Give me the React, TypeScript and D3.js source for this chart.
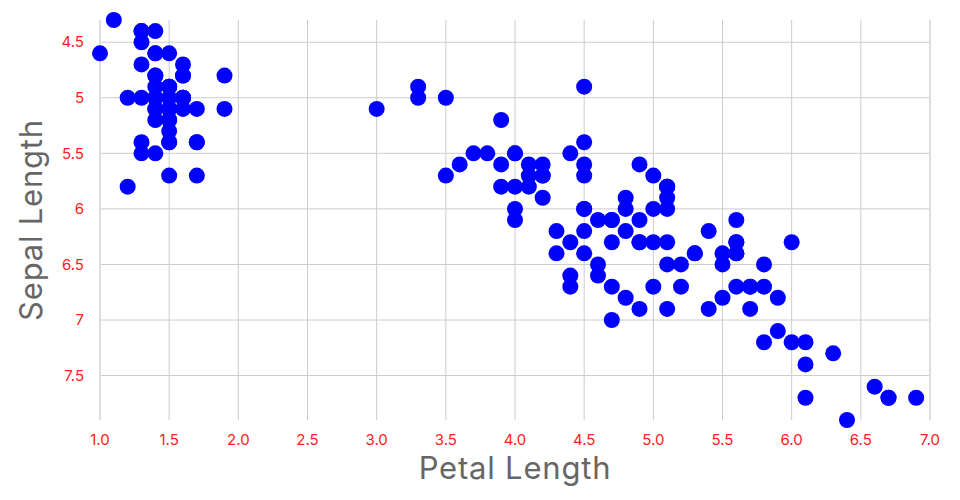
import { useEffect, useRef } from "react";
import * as d3 from "d3";

// iris: petal length (x) vs sepal length (y)
const petalLength = [
  1.4, 1.4, 1.3, 1.5, 1.4, 1.7, 1.4, 1.5, 1.4, 1.5, 1.5, 1.6, 1.4, 1.1, 1.2, 1.5, 1.3, 1.4, 1.7, 1.5,
  1.7, 1.5, 1.0, 1.7, 1.9, 1.6, 1.6, 1.5, 1.4, 1.6, 1.6, 1.5, 1.5, 1.4, 1.5, 1.2, 1.3, 1.5, 1.3, 1.5,
  1.3, 1.3, 1.3, 1.6, 1.9, 1.4, 1.6, 1.4, 1.5, 1.4,
  4.7, 4.5, 4.9, 4.0, 4.6, 4.5, 4.7, 3.3, 4.6, 3.9, 3.5, 4.2, 4.0, 4.7, 3.6, 4.4, 4.5, 4.1, 4.5, 3.9,
  4.8, 4.0, 4.9, 4.7, 4.3, 4.4, 4.8, 5.0, 4.5, 3.5, 3.8, 3.7, 3.9, 5.1, 4.5, 4.5, 4.7, 4.4, 4.1, 4.0,
  4.4, 4.6, 4.0, 3.3, 4.2, 4.2, 4.2, 4.3, 3.0, 4.1,
  6.0, 5.1, 5.9, 5.6, 5.8, 6.6, 4.5, 6.3, 5.8, 6.1, 5.1, 5.3, 5.5, 5.0, 5.1, 5.3, 5.5, 6.7, 6.9, 5.0,
  5.7, 4.9, 6.7, 4.9, 5.7, 6.0, 4.8, 4.9, 5.6, 5.8, 6.1, 6.4, 5.6, 5.1, 5.6, 6.1, 5.6, 5.5, 4.8, 5.4,
  5.6, 5.1, 5.1, 5.9, 5.7, 5.2, 5.0, 5.2, 5.4, 5.1,
];
const sepalLength = [
  5.1, 4.9, 4.7, 4.6, 5.0, 5.4, 4.6, 5.0, 4.4, 4.9, 5.4, 4.8, 4.8, 4.3, 5.8, 5.7, 5.4, 5.1, 5.7, 5.1,
  5.4, 5.1, 4.6, 5.1, 4.8, 5.0, 5.0, 5.2, 5.2, 4.7, 4.8, 5.4, 5.2, 5.5, 4.9, 5.0, 5.5, 4.9, 4.4, 5.1,
  5.0, 4.5, 4.4, 5.0, 5.1, 4.8, 5.1, 4.6, 5.3, 5.0,
  7.0, 6.4, 6.9, 5.5, 6.5, 5.7, 6.3, 4.9, 6.6, 5.2, 5.0, 5.9, 6.0, 6.1, 5.6, 6.7, 5.6, 5.8, 6.2, 5.6,
  5.9, 6.1, 6.3, 6.1, 6.4, 6.6, 6.8, 6.7, 6.0, 5.7, 5.5, 5.5, 5.8, 6.0, 5.4, 6.0, 6.7, 6.3, 5.6, 5.5,
  5.5, 6.1, 5.8, 5.0, 5.6, 5.7, 5.7, 6.2, 5.1, 5.7,
  6.3, 5.8, 7.1, 6.3, 6.5, 7.6, 4.9, 7.3, 6.7, 7.2, 6.5, 6.4, 6.8, 5.7, 5.8, 6.4, 6.5, 7.7, 7.7, 6.0,
  6.9, 5.6, 7.7, 6.3, 6.7, 7.2, 6.2, 6.1, 6.4, 7.2, 7.4, 7.9, 6.4, 6.3, 6.1, 7.7, 6.3, 6.4, 6.0, 6.9,
  6.7, 6.9, 5.8, 6.8, 6.7, 6.7, 6.3, 6.5, 6.2, 5.9,
];
const xTicks = [1.0, 1.5, 2.0, 2.5, 3.0, 3.5, 4.0, 4.5, 5.0, 5.5, 6.0, 6.5, 7.0];
const yTicks = [4.5, 5, 5.5, 6, 6.5, 7, 7.5];

const FONT = "Inter, 'Open Sans', sans-serif";

export default function App() {
  const svgRef = useRef<SVGSVGElement>(null);

  useEffect(() => {
    if (!svgRef.current) return;
    const width = 960;
    const height = 500;
    const left = 100;
    const right = 930;
    const top = 20;
    const bottom = 420;

    const svg = d3.select(svgRef.current);
    svg.selectAll("*").remove();

    const x = d3.scaleLinear().domain([1, 7]).range([left, right]);
    const y = d3.scaleLinear().domain([4.3, 7.9]).range([top, bottom]);

    const grid = svg.append("g");
    grid
      .selectAll("line.h")
      .data(yTicks)
      .join("line")
      .attr("class", "h")
      .attr("x1", left)
      .attr("x2", right)
      .attr("y1", (d) => y(d))
      .attr("y2", (d) => y(d))
      .attr("stroke", "#cccccc")
      .attr("stroke-width", 1);
    grid
      .selectAll("line.v")
      .data(xTicks)
      .join("line")
      .attr("class", "v")
      .attr("x1", (d) => x(d))
      .attr("x2", (d) => x(d))
      .attr("y1", top)
      .attr("y2", bottom)
      .attr("stroke", (d, i) => (i === 0 || i === xTicks.length - 1 ? "#dddddd" : "#cccccc"))
      .attr("stroke-width", (d, i) => (i === 0 || i === xTicks.length - 1 ? 2 : 1));

    svg
      .append("g")
      .selectAll("text")
      .data(xTicks)
      .join("text")
      .attr("x", (d) => x(d))
      .attr("y", bottom + 20)
      .attr("dy", "0.35em")
      .attr("text-anchor", "middle")
      .attr("fill", "#ff2020")
      .attr("font-family", FONT)
      .attr("font-size", 15)
      .text((d) => d3.format(".1f")(d));

    svg
      .append("g")
      .selectAll("text")
      .data(yTicks)
      .join("text")
      .attr("x", left - 16)
      .attr("y", (d) => y(d))
      .attr("dy", "0.35em")
      .attr("text-anchor", "end")
      .attr("fill", "#ff2020")
      .attr("font-family", FONT)
      .attr("font-size", 15)
      .text((d) => String(d));

    svg
      .append("g")
      .selectAll("circle")
      .data(d3.range(petalLength.length))
      .join("circle")
      .attr("cx", (i) => x(petalLength[i]))
      .attr("cy", (i) => y(sepalLength[i]))
      .attr("r", 8)
      .attr("fill", "#0000ff");

    svg
      .append("text")
      .attr("x", (left + right) / 2)
      .attr("y", 468)
      .attr("dy", "0.35em")
      .attr("text-anchor", "middle")
      .attr("fill", "#666666")
      .attr("font-family", FONT)
      .attr("font-size", 31)
      .attr("letter-spacing", 0.8)
      .text("Petal Length");

    svg
      .append("text")
      .attr("transform", `translate(31,${(top + bottom) / 2}) rotate(-90)`)
      .attr("dy", "0.35em")
      .attr("text-anchor", "middle")
      .attr("fill", "#666666")
      .attr("font-family", FONT)
      .attr("font-size", 31)
      .attr("letter-spacing", 0.8)
      .text("Sepal Length");

    svg.attr("viewBox", `0 0 ${width} ${height}`);
  }, []);

  return (
    <svg
      ref={svgRef}
      width={960}
      height={500}
      style={{ position: "absolute", left: 0, top: 0, background: "#fff" }}
    />
  );
}
